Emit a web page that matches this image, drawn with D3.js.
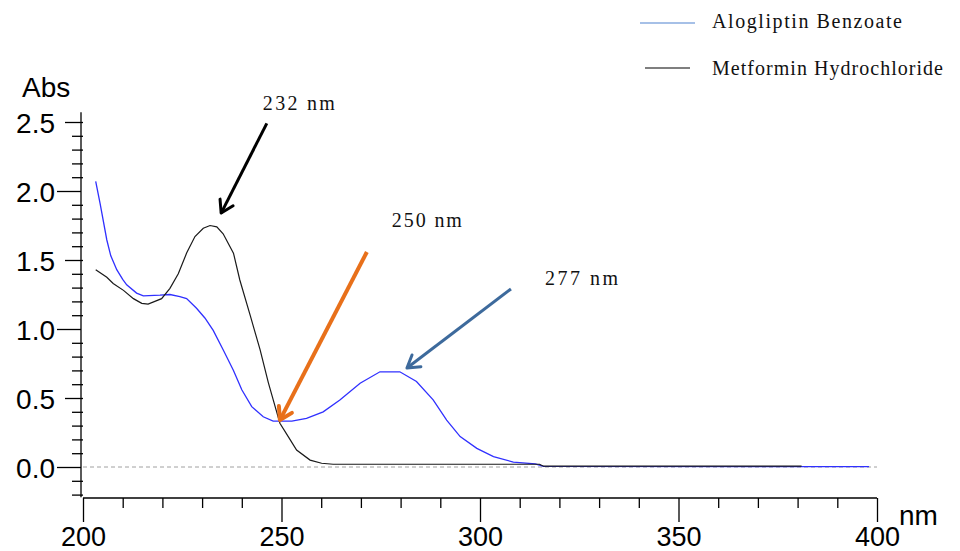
<!DOCTYPE html>
<html><head><meta charset="utf-8">
<script src="https://cdn.jsdelivr.net/npm/d3@7"></script>
<style>body{margin:0;background:#fff}svg{display:block}</style>
</head><body>
<svg id="chart" width="960" height="551"></svg>
<script>
// ---- data ----
const seriesNames = ["Alogliptin Benzoate", "Metformin Hydrochloride"];
const alogliptinNm  = [203.2,204.3,206,207,208.5,210,211,213.5,215.2,219.4,221.9,224.4,226.1,228.6,230.7,232.8,235.3,237.9,240,242.5,245.4,247.9,252.6,256.3,260.5,264.7,269.8,274.8,279.8,284,288.2,291.6,295,299.2,303.4,308.4,313.9,316,398];
const alogliptinAbs = [2.07,1.91,1.645,1.53,1.43,1.36,1.32,1.26,1.24,1.245,1.25,1.235,1.22,1.15,1.08,0.99,0.85,0.70,0.56,0.437,0.364,0.333,0.333,0.353,0.40,0.486,0.607,0.69,0.69,0.62,0.486,0.34,0.22,0.135,0.075,0.036,0.022,0.004,0.003];
const metforminNm  = [203.2,206,207.6,210.2,212.7,214.8,216.4,218.1,219.8,221.9,224,226.1,228.2,230.3,232,233.7,235.3,237.9,239.5,242.1,244.6,246.7,248.4,249.6,251.7,253.8,257.2,260.1,263,315,316,381];
const metforminAbs = [1.43,1.375,1.33,1.28,1.22,1.186,1.18,1.20,1.22,1.295,1.40,1.55,1.67,1.73,1.75,1.74,1.69,1.55,1.355,1.10,0.85,0.61,0.437,0.317,0.22,0.123,0.05,0.027,0.02,0.02,0.006,0.006];
const xTickLabels = [200, 250, 300, 350, 400];
const yTickLabels = [0.0, 0.5, 1.0, 1.5, 2.0, 2.5];
const peakLabels = ["232 nm", "250 nm", "277 nm"];
// arrow start / tip and label anchor in data units (nm, Abs)
const arrowStartNm = [246.3, 271.5, 307.8];
const arrowStartAbs = [2.49, 1.558, 1.29];
const arrowTipNm = [234.8, 249.6, 281.6];
const arrowTipAbs = [1.84, 0.34, 0.717];
const labelNm = [245.3, 277.8, 316.4];
const labelAbs = [2.587, 1.739, 1.319];

// ---- layout ----
const svg = d3.select("#chart");
const x = d3.scaleLinear().domain([200, 400]).range([83, 877]);
const y = d3.scaleLinear().domain([0, 2.5]).range([467, 122]);
const axisFont = "'Liberation Sans', Arial, sans-serif";
const serif = "'Liberation Serif', 'Times New Roman', serif";
const blue = "#3030ff", black = "#1a1a1a";

// zero dashed line
svg.append("line").attr("x1", x(200)).attr("x2", x(400)).attr("y1", y(0)).attr("y2", y(0))
  .attr("stroke", "#a0a0a0").attr("stroke-dasharray", "4,3").attr("stroke-width", 1);

// ---- x axis ----
const xAxisY = 498;
const minorX = d3.range(200, 401, 10).filter(v => v % 50 !== 0);
svg.append("g").attr("transform", `translate(0,${xAxisY})`)
  .call(d3.axisBottom(x).tickValues(minorX).tickSize(10).tickSizeOuter(0).tickFormat(""))
  .call(g => g.select(".domain").remove());
const gx = svg.append("g").attr("transform", `translate(0,${xAxisY})`)
  .call(d3.axisBottom(x).tickValues(xTickLabels).tickSize(24).tickSizeOuter(0).tickPadding(5).tickFormat(d3.format("d")));
gx.select(".domain").attr("d", `M${x(200)},0H${x(400)}`);
gx.selectAll("text").attr("font-size", 27).attr("font-family", axisFont).attr("fill", "#000");
svg.selectAll("g line").attr("stroke", "#000").attr("stroke-width", 1.3);
gx.select(".domain").attr("stroke", "#000").attr("stroke-width", 1.3);

// ---- y axis ----
const yMinor = d3.range(-2, 26).map(v => v / 10).filter(v => Math.round(v * 10) % 5 !== 0);
const yHalf = yTickLabels.filter(v => Math.round(v * 10) % 10 === 5);
const yInt = yTickLabels.filter(v => Math.round(v * 10) % 10 === 0);
const gym = svg.append("g").attr("transform", "translate(83,0)")
  .call(d3.axisLeft(y).tickValues(yMinor).tickSize(11).tickFormat(""));
gym.select(".domain").remove();
const gyh = svg.append("g").attr("transform", "translate(83,0)")
  .call(d3.axisLeft(y).tickValues(yHalf).tickSize(18).tickPadding(10).tickFormat(d3.format(".1f")));
gyh.select(".domain").remove();
const gyi = svg.append("g").attr("transform", "translate(81,0)")
  .call(d3.axisLeft(y).tickValues(yInt).tickSize(24).tickPadding(2).tickFormat(d3.format(".1f")));
gyi.select(".domain").attr("d", `M0,${y(2.57)}V${y(-0.22)}`).attr("stroke", "#000").attr("stroke-width", 1.3);
[gym, gyh, gyi].forEach(g => {
  g.selectAll("line").attr("stroke", "#000").attr("stroke-width", 1.3);
  g.selectAll("text").attr("font-size", 28).attr("font-family", axisFont).attr("fill", "#000").attr("dy", "0.36em");
});

svg.append("text").attr("x", 22).attr("y", 97).text("Abs")
  .attr("font-size", 28).attr("font-family", axisFont).attr("fill", "#000");
svg.append("text").attr("x", 899).attr("y", 525).text("nm")
  .attr("font-size", 28).attr("font-family", axisFont).attr("fill", "#000");

// ---- lines ----
const line = d3.line().x(d => x(d[0])).y(d => y(d[1]));
svg.append("path").datum(d3.zip(alogliptinNm, alogliptinAbs)).attr("d", line)
  .attr("fill", "none").attr("stroke", blue).attr("stroke-width", 1.3);
svg.append("path").datum(d3.zip(metforminNm, metforminAbs)).attr("d", line)
  .attr("fill", "none").attr("stroke", black).attr("stroke-width", 1.2);

// ---- legend ----
const legendColors = ["#4f81d0", "#000"];
const legendY = [23, 68];
const legendBase = [28, 75];
const legendLen = [190, 231];
seriesNames.forEach((name, i) => {
  svg.append("line").attr("x1", i ? 645 : 640).attr("x2", i ? 690 : 695)
    .attr("y1", legendY[i]).attr("y2", legendY[i]).attr("stroke", legendColors[i]).attr("stroke-width", 1.2);
  svg.append("text").attr("x", 712).attr("y", legendBase[i]).text(name)
    .attr("font-size", 20).attr("font-family", serif).attr("fill", "#111")
    .attr("textLength", legendLen[i]).attr("lengthAdjust", "spacing");
});

// ---- annotations ----
const arrowColors = ["#000", "#e8701a", "#3d6a9c"];
const arrowWidths = [3, 4, 3];
const labelLens = [72, 70, 73];
peakLabels.forEach((lab, i) => {
  const x1 = x(arrowStartNm[i]), y1 = y(arrowStartAbs[i]);
  const x2 = x(arrowTipNm[i]), y2 = y(arrowTipAbs[i]);
  const ang = Math.atan2(y1 - y2, x1 - x2);
  const L = 14, spread = 0.55;
  const a1 = [x2 + L * Math.cos(ang + spread), y2 + L * Math.sin(ang + spread)];
  const a2 = [x2 + L * Math.cos(ang - spread), y2 + L * Math.sin(ang - spread)];
  svg.append("line").attr("x1", x1).attr("y1", y1).attr("x2", x2).attr("y2", y2)
    .attr("stroke", arrowColors[i]).attr("stroke-width", arrowWidths[i]);
  svg.append("path").attr("d", `M${a1[0]},${a1[1]}L${x2},${y2}L${a2[0]},${a2[1]}`)
    .attr("fill", "none").attr("stroke", arrowColors[i]).attr("stroke-width", arrowWidths[i])
    .attr("stroke-linejoin", "round").attr("stroke-linecap", "round");
  svg.append("text").attr("x", x(labelNm[i])).attr("y", y(labelAbs[i])).text(lab)
    .attr("font-size", 20).attr("font-family", serif).attr("fill", "#111")
    .attr("textLength", labelLens[i]).attr("lengthAdjust", "spacing");
});
</script>
</body></html>
